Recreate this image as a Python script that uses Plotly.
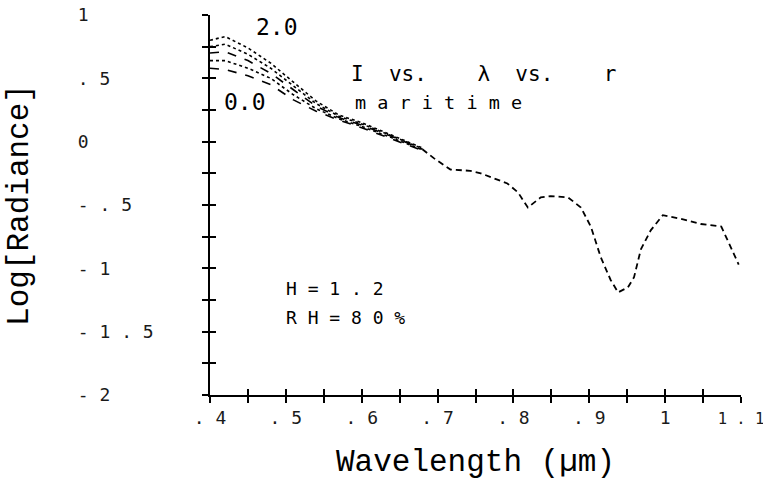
import plotly.graph_objects as go

# ---------------- data ----------------
# fan region: one curve per r value (0.0 ... 2.0)
wl_fan = [0.40, 0.42, 0.45, 0.48, 0.51, 0.54, 0.57, 0.60, 0.64, 0.68]
rad_r20 = [0.80, 0.83, 0.74, 0.62, 0.47, 0.32, 0.21, 0.15, 0.05, -0.05]
rad_r15 = [0.75, 0.77, 0.69, 0.58, 0.44, 0.30, 0.20, 0.14, 0.045, -0.055]
rad_r10 = [0.70, 0.71, 0.64, 0.54, 0.41, 0.28, 0.19, 0.13, 0.04, -0.06]
rad_r05 = [0.64, 0.64, 0.58, 0.50, 0.37, 0.26, 0.18, 0.12, 0.03, -0.065]
rad_r00 = [0.58, 0.57, 0.52, 0.45, 0.33, 0.24, 0.17, 0.11, 0.02, -0.07]

# common tail where all curves coincide
wl_tail = [0.68, 0.695, 0.717, 0.743, 0.757, 0.792, 0.806, 0.819, 0.836, 0.849,
           0.872, 0.889, 0.902, 0.915, 0.928, 0.938, 0.951, 0.959, 0.968, 0.981,
           0.997, 1.021, 1.047, 1.074, 1.097]
rad_tail = [-0.06, -0.13, -0.22, -0.23, -0.25, -0.33, -0.40, -0.52, -0.44, -0.43,
            -0.44, -0.52, -0.67, -0.91, -1.09, -1.19, -1.15, -1.07, -0.85, -0.70,
            -0.58, -0.61, -0.65, -0.67, -0.97]

# axis ticks
x_tickvals = [0.4, 0.5, 0.6, 0.7, 0.8, 0.9, 1.0, 1.1]
x_ticktext = [". 4", ". 5", ". 6", ". 7", ". 8", ". 9", "1",
              "<span style='font-size:15.5px'>1 . 1</span>"]
x_minorvals = [0.45, 0.55, 0.65, 0.75, 0.85, 0.95, 1.05]
y_tickvals = [1, 0.5, 0, -0.5, -1, -1.5, -2]
y_ticktext = ["1", ". 5", "0", "- . 5", "- 1", "- 1 . 5", "- 2"]
y_minorvals = [0.75, 0.25, -0.25, -0.75, -1.25, -1.75]

# ---------------- figure ----------------
NB = "\u00a0"
MONO = "DejaVu Sans Mono"
TYPE = "Liberation Mono"

fig = go.Figure()

fan_styles = [(rad_r20, "dot"), (rad_r15, "dot"), (rad_r10, "dash"),
              (rad_r05, "dot"), (rad_r00, "dash")]
for vals, dash in fan_styles:
    fig.add_trace(go.Scatter(x=wl_fan, y=vals, mode="lines",
                             line=dict(color="black", width=1.6, dash=dash),
                             showlegend=False, hoverinfo="skip"))

fig.add_trace(go.Scatter(x=wl_tail, y=rad_tail, mode="lines",
                         line=dict(color="black", width=1.8, dash="6px,4px"),
                         showlegend=False, hoverinfo="skip"))

# invisible trace to carry the overlay axes (inside half of the crossing ticks)
fig.add_trace(go.Scatter(x=[None], y=[None], xaxis="x2", yaxis="y2",
                         showlegend=False, hoverinfo="skip"))

maxlen = max(len(t) for t in y_ticktext)
y_ticktext_padded = [t.replace(" ", NB) + NB * (maxlen - len(t)) for t in y_ticktext]
x_ticktext_nb = [t if t.startswith("<") else t.replace(" ", NB) for t in x_ticktext]

tick_common = dict(ticklen=6, tickwidth=1.5, tickcolor="black")

fig.update_layout(
    template="none",
    width=763, height=483,
    margin=dict(l=210, r=22, t=15, b=88, autoexpand=False),
    paper_bgcolor="white", plot_bgcolor="white",
    showlegend=False,
    xaxis=dict(
        range=[0.4, 1.1], showgrid=False, zeroline=False, automargin=False,
        showline=True, linecolor="black", linewidth=1.5,
        ticks="outside", tickvals=x_tickvals, ticktext=x_ticktext_nb,
        tickfont=dict(family=MONO, size=18, color="#1a1a1a"),
        ticklabeloverflow="allow",
        minor=dict(tickvals=x_minorvals, ticks="outside", **tick_common),
        title=dict(text="Wavelength (µm)", standoff=22,
                   font=dict(family=TYPE, size=31, color="black")),
        **tick_common,
    ),
    yaxis=dict(
        range=[-2, 1], showgrid=False, zeroline=False, automargin=False,
        showline=True, linecolor="black", linewidth=1.5,
        ticks="outside", tickvals=y_tickvals, ticktext=y_ticktext_padded,
        tickfont=dict(family=MONO, size=18, color="#1a1a1a"),
        ticklabelstandoff=45, ticklabeloverflow="allow",
        minor=dict(tickvals=y_minorvals, ticks="outside", **tick_common),
        title=dict(text="Log[Radiance]", standoff=40,
                   font=dict(family=TYPE, size=31, color="black")),
        **tick_common,
    ),
    xaxis2=dict(
        overlaying="x", anchor="y2", side="bottom", range=[0.4, 1.1],
        showgrid=False, zeroline=False, showline=False, showticklabels=False,
        automargin=False,
        ticks="inside", tickvals=x_tickvals,
        minor=dict(tickvals=x_minorvals, ticks="inside", **tick_common),
        **tick_common,
    ),
    yaxis2=dict(
        overlaying="y", anchor="x2", side="left", range=[-2, 1],
        showgrid=False, zeroline=False, showline=False, showticklabels=False,
        automargin=False,
        ticks="inside", tickvals=y_tickvals,
        minor=dict(tickvals=y_minorvals, ticks="inside", **tick_common),
        **tick_common,
    ),
)

def px_x(p):
    return (p - 210) / 531.0

def px_y(p):
    return (395 - p) / 380.0

notes = [
    ("2.0", 277, 27, "center", MONO, 23),
    ("0.0", 245, 102, "center", MONO, 23),
    ("I" + NB * 2 + "vs." + NB * 4 + "λ" + NB * 2 + "vs." + NB * 4 + "r", 349, 73.5, "left", MONO, 21),
    ("m a r i t i m e".replace(" ", NB), 352.5, 102, "left", MONO, 18.5),
    ("H = 1 . 2".replace(" ", NB), 283.6, 288.5, "left", MONO, 18),
    ("R H = 8 0 %".replace(" ", NB), 283.6, 317.5, "left", MONO, 18),
]
for text, xp, yp, anchor, fam, size in notes:
    fig.add_annotation(text=text, x=px_x(xp), y=px_y(yp), xref="paper", yref="paper",
                       xanchor=anchor, yanchor="middle", showarrow=False,
                       font=dict(family=fam, size=size, color="black"))

fig.write_html("out.html",
               config={"displayModeBar": False},
               post_script="document.body.style.margin='0px';document.body.style.overflow='hidden';")
